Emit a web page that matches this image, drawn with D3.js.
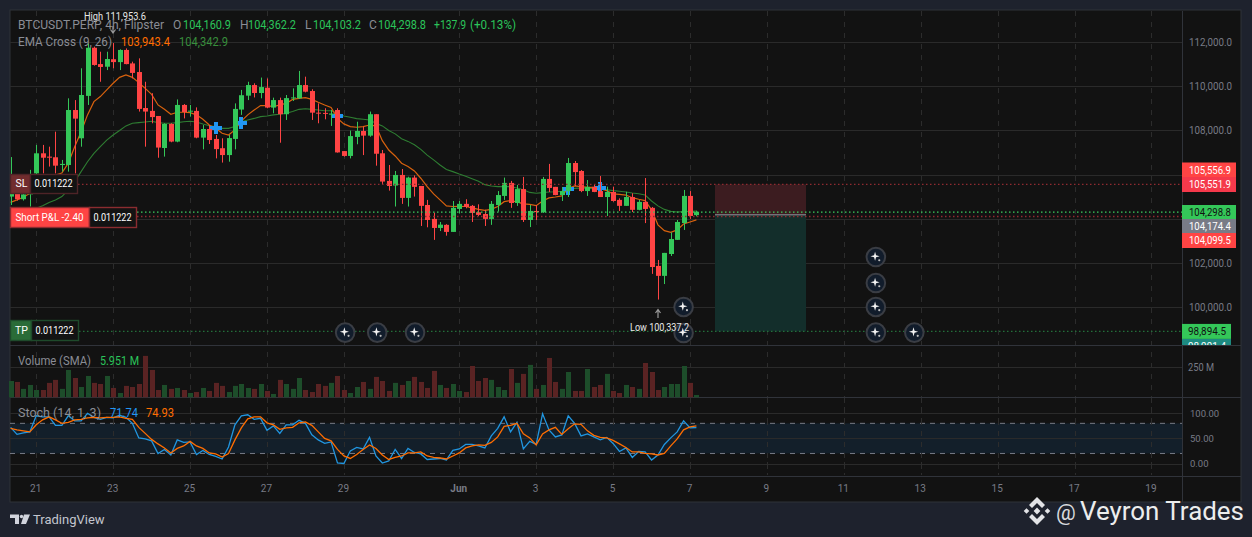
<!DOCTYPE html>
<html><head><meta charset="utf-8">
<script src="https://cdn.jsdelivr.net/npm/d3@7"></script>
<style>
html,body{margin:0;padding:0;background:#1e222d;overflow:hidden}
svg{display:block}
text{font-family:Roboto,"Noto Sans",sans-serif}
</style></head><body>
<svg id="c" width="1252" height="537"></svg>
<script>
// ---- data ----
const opens=[105000,105180,104880,105100,106050,106960,106810,106780,106430,106430,108920,107640,109560,111740,111000,110880,111220,111090,111640,111030,110640,109010,108880,108650,107200,108290,107490,109150,108850,108880,107670,108060,107610,107190,106880,107610,108940,109570,110050,109690,109930,109030,109370,108730,109450,109450,110050,109780,108800,108790,108710,108920,107060,106840,107700,107970,107760,108730,
106960,105710,105500,105980,104940,105860,105480,104620,103990,103580,103720,103400,104440,104670,104580,104290,104210,103990,104620,105030,105620,104710,105340,103940,104350,104290,105800,105440,105070,105250,106520,106160,105250,105440,105250,104980,105210,104850,104580,104980,104400,104760,104490,101860,101410,102400,103040,103800,105030,104160.9];
const highs=[106790,105900,105220,106210,107340,107340,107260,107940,106660,109450,109370,110810,111940,111790,111560,111560,111953.6,111670,111710,111110,111260,110200,109680,108650,108320,108320,109400,109190,109150,109040,108240,108240,107790,107640,107790,109220,109830,110200,110130,110390,110350,109480,109480,109600,109900,110690,110430,109860,109220,109000,108920,109000,107060,107990,108390,108170,108850,108730,
107110,106430,106160,106250,105900,105960,105480,104850,104270,103850,103750,104800,104800,104880,104620,104650,104400,104800,105250,105860,105710,105530,105890,104620,104620,105890,106480,105440,105420,106750,106610,106200,105750,105530,105930,105450,105450,104920,105220,105150,104850,105840,104530,102130,102450,103380,103940,105300,105250,104362.2];
const lows=[104620,104820,104820,104550,105900,106050,106360,106050,106130,106130,106050,107260,109150,110930,110200,110730,110810,110730,110990,110350,108850,107260,108320,106760,106810,107460,107460,108540,108620,107640,107140,107380,106730,106540,106580,107140,108700,109370,109490,109450,109000,108770,107440,108470,109330,109420,109720,108470,108320,108500,108200,106990,106810,106730,107370,106880,107710,106400,
105560,105270,104550,104670,104550,105000,103670,103610,103040,103440,103230,103400,104240,104470,103850,104120,103670,103720,104320,104850,104490,104580,103850,103620,103940,104260,105210,105060,104800,104980,105480,105200,105030,105200,104980,104120,104770,104350,104580,104300,104380,103800,101500,100337.2,101040,102310,103040,103490,103990,104103.2];
const closes=[105900,104880,105100,105980,106960,106760,106760,106400,106480,108920,108530,109600,111740,110960,110870,111230,111090,111640,111000,110600,108970,108850,108600,107220,108290,107490,109150,108830,108890,107670,108060,107560,107150,106880,107650,108970,109590,110050,109690,109960,109030,109370,108730,109460,109490,110050,109750,108800,108760,108760,108760,107000,106840,107740,107970,107760,108730,106940,
105680,105480,105980,104940,105860,105440,104580,103940,103580,103730,103400,104490,104670,104530,104260,104170,103990,104670,105070,105620,104710,105340,103940,104350,104300,105800,105390,105070,105250,106520,106110,105250,105440,105210,104980,105210,104800,104580,104980,104400,104760,104440,101810,101410,102450,103080,103850,105030,104120,104298.8];
const ema9=[104740,104850,104970,105150,105450,105680,105830,105980,106070,106510,107260,107940,108700,109300,109530,109830,110130,110400,110510,110400,110160,109900,109630,109150,108950,108730,108820,108820,108800,108700,108500,108240,108090,107870,107790,108020,108420,108700,108920,109120,109120,109070,109150,109220,109400,109450,109480,109400,109270,109150,109040,108540,108290,108170,108140,108170,108240,108200,
107530,107110,106840,106510,106360,106160,105830,105450,105120,104850,104580,104550,104560,104550,104490,104420,104380,104420,104550,104770,104820,104760,104670,104650,104590,104800,104940,104980,105030,105370,105480,105450,105420,105420,105360,105270,105120,105100,105070,104950,104880,104820,104400,103720,103460,103380,103490,103760,103850,103943.4];
const ema26=[103940,104060,104170,104300,104470,104580,104730,104850,105000,105300,105680,106130,106580,106960,107260,107560,107790,107990,108200,108320,108350,108380,108410,108350,108320,108320,108350,108390,108410,108380,108290,108210,108170,108090,108090,108170,108390,108470,108540,108620,108650,108700,108730,108770,108850,108950,108980,108950,108920,108890,108890,108770,108650,108590,108530,108500,108470,108320,
108200,107990,107840,107620,107500,107350,107140,106880,106660,106430,106230,106130,106020,105920,105810,105690,105540,105480,105450,105450,105450,105390,105310,105190,105150,105180,105210,105220,105240,105300,105370,105390,105370,105360,105340,105310,105270,105240,105210,105160,105130,105070,104800,104580,104420,104330,104300,104320,104330,104342.9];
const volumesM=[136,128,70,103,61,61,120,145,70,228,161,86,178,120,111,178,78,36,95,86,111,345,228,61,103,70,78,61,36,44,78,53,120,95,44,95,111,78,70,111,53,28,145,111,70,161,61,44,111,95,120,178,61,36,86,
128,70,170,136,53,120,103,136,170,128,78,220,103,78,111,53,44,261,136,161,145,86,61,236,120,195,270,70,103,328,128,70,211,53,53,236,86,103,195,53,36,103,86,70,286,211,61,86,111,111,261,120,19];
const stochK=[72,58,61,63,95,93,93,76,76,95,85,85,100,92,88,92,91,96,92,80,51,49,45,20,28,17,47,42,43,18,26,18,14,9,33,77,95,97,88,90,66,75,60,77,77,86,80,57,47,40,43,1,0,25,
32,29,52,15,1,5,28,10,30,22,19,8,9,10,7,26,29,38,38,35,31,55,70,93,63,82,29,44,38,99,67,53,57,95,80,55,59,53,47,52,40,24,31,12,24,23,7,17,38,51,63,85,71,71.74];
const stochD=[70,67,65,63,77,87,93,87,80,82,87,88,91,92,91,92,92,93,90,88,72,60,48,39,31,21,30,35,44,35,30,21,19,13,20,47,71,89,93,93,81,77,68,71,72,81,83,76,63,50,45,28,15,10,
18,28,37,30,17,8,12,15,21,21,23,15,12,11,9,15,21,31,35,37,36,42,53,74,76,80,59,51,37,59,67,72,58,69,79,78,65,56,52,51,46,39,32,23,23,20,19,17,20,35,49,67,73,74.93];
const crossIdx=[32,36,51,87,92];
const crossPrice=[108120,108350,108665,105330,105375];
const priceTicks=[112000,110000,108000,106000,104000,102000,100000];
const gridLabelled=[112000,110000,108000,102000,100000];
const dayLabels=['21','23','25','27','29','Jun','3','5','7','9','11','13','15','17','19'];
const dayOffsets=[0,2,4,6,8,11,13,15,17,19,21,23,25,27,29];
const stochTicks=[100,50,0];
const tagLabels=['105,556.9','105,551.9','104,298.8','104,174.4','104,099.5'];
const slPrice=105551.9, entryPrice=104174.4, pnlPrice=104099.5, lastPrice=104298.8, tpPrice=98894.5;
const badgeIdx=[52.2,57.2,63.1,105,105,135,135,135,135,141];
const badgePrice=[98840,98840,98840,100000,98820,102263,101085,100000,98840,98840];

// ---- drawing ----
const C={bg:'#121212',grid:'#2a2a2a',axis:'#787b86',up:'#34c759',down:'#ff4444',frame:'#2f3239'};
const svg=d3.select('#c');
const L=10,R=1182,E=1241;
const x=d3.scaleLinear().domain([0,107]).range([10.6,696.4]);
const y=d3.scaleLinear().domain([100000,112000]).range([307,42]);
const yv=d3.scaleLinear().domain([0,250]).range([397.3,367.3]);
const ys=d3.scaleLinear().domain([0,100]).range([463.5,413.3]);
const dayIdx=dayOffsets.map(o=>4+o*6);

svg.append('rect').attr('width',1252).attr('height',537).attr('fill','#1e222d');
svg.append('rect').attr('x',L).attr('y',10).attr('width',E-L).attr('height',492).attr('fill',C.bg).attr('stroke',C.frame);
const defs=svg.append('defs');
defs.append('clipPath').attr('id','m').append('rect').attr('x',L).attr('y',11).attr('width',R-L).attr('height',334);
defs.append('clipPath').attr('id','tagclip').append('rect').attr('x',R).attr('y',11).attr('width',E-R).attr('height',334);
const g=svg.append('g');

// horizontal grid and price axis
const priceAxis=d3.axisRight(y).tickValues(priceTicks).tickSize(0)
  .tickFormat(d=>gridLabelled.includes(d)?d3.format(',.1f')(d):'');
const axG=g.append('g').attr('transform',`translate(${R},0)`).call(priceAxis);
axG.select('.domain').remove();
axG.selectAll('text').attr('fill',C.axis).attr('font-size',10).attr('dy','0.32em').attr('x',7).attr('textLength',d=>gridLabelled.includes(d)?43:null).attr('lengthAdjust','spacingAndGlyphs');
g.append('g').selectAll('line').data(priceTicks).join('line').attr('x1',L).attr('x2',R).attr('y1',d=>Math.round(y(d))+.5).attr('y2',d=>Math.round(y(d))+.5).attr('stroke',C.grid);
// vertical dashed grid
g.append('g').selectAll('line').data(dayIdx).join('line').attr('x1',d=>Math.round(x(d))+.5).attr('x2',d=>Math.round(x(d))+.5).attr('y1',11).attr('y2',475)
  .attr('stroke','#2c2c2c').attr('stroke-dasharray','5 6');
// pane separators
[345.5,397.5,476.5].forEach(v=>g.append('line').attr('x1',L).attr('x2',E).attr('y1',v).attr('y2',v).attr('stroke','#30333a'));
g.append('line').attr('x1',R+.5).attr('x2',R+.5).attr('y1',11).attr('y2',502).attr('stroke','#30333a');

const main=g.append('g').attr('clip-path','url(#m)');
// position boxes
const bx0=715,bx1=806;
main.append('rect').attr('x',bx0).attr('width',bx1-bx0).attr('y',y(slPrice)).attr('height',y(entryPrice)-y(slPrice)).attr('fill','#3c1c20');
main.append('rect').attr('x',bx0).attr('width',bx1-bx0).attr('y',y(entryPrice)).attr('height',y(tpPrice)-y(entryPrice)).attr('fill','#132e2b');
main.append('line').attr('x1',bx0).attr('x2',bx1).attr('y1',y(entryPrice)).attr('y2',y(entryPrice)).attr('stroke','#9598a1');

// EMAs (below the candles)
const ln=(a,sc)=>d3.line().x((d,i)=>x(i)).y(d=>sc(d))(a);
main.append('path').attr('d',ln(ema26,y)).attr('fill','none').attr('stroke','#2e7d32').attr('stroke-width',1.1);
main.append('path').attr('d',ln(ema9,y)).attr('fill','none').attr('stroke','#d8620e').attr('stroke-width',1.2);

// blue crosses
crossIdx.forEach((c,i)=>{const cx=Math.round(x(c)),cy=Math.round(y(crossPrice[i]));
  main.append('rect').attr('x',cx-6).attr('y',cy-2).attr('width',12).attr('height',4).attr('fill','#2196f3');
  main.append('rect').attr('x',cx-2).attr('y',cy-6).attr('width',4).attr('height',12).attr('fill','#2196f3');});

// candles
const idx=d3.range(opens.length);
const col=i=>closes[i]>=opens[i]?C.up:C.down;
const cs=main.append('g').selectAll('g').data(idx).join('g');
cs.append('rect').attr('x',i=>Math.round(x(i))).attr('width',1).attr('y',i=>y(highs[i])).attr('height',i=>y(lows[i])-y(highs[i])).attr('fill',col);
cs.append('rect').attr('x',i=>Math.round(x(i))-2).attr('width',5)
  .attr('y',i=>y(Math.max(opens[i],closes[i]))).attr('height',i=>Math.max(1,Math.abs(y(opens[i])-y(closes[i])))).attr('fill',col);

// dotted level lines
const dot=(p,x0,c,w)=>g.append('line').attr('x1',x0).attr('x2',R).attr('y1',y(p)).attr('y2',y(p)).attr('stroke',c).attr('stroke-width',w).attr('stroke-dasharray','1.5 2.5');
dot(slPrice,78,'#8f2b30',1.4);dot(pnlPrice,137,'#8f2b30',1.4);dot(lastPrice,137,'#3ccf5f',1.3);dot(tpPrice,79,'#23703a',1.4);

// order labels
function box(x0,y0,w,h,fill,stroke){g.append('rect').attr('x',x0+.5).attr('y',y0+.5).attr('width',w).attr('height',h).attr('fill',fill).attr('stroke',stroke).attr('stroke-width',1.4);}
function t(txt,xx,yy,fs,fill,len){const e=g.append('text').attr('x',xx).attr('y',yy).attr('font-size',fs).attr('fill',fill).text(txt);
  if(len)e.attr('textLength',len).attr('lengthAdjust','spacingAndGlyphs');return e;}
box(10,174,20,19,'#712c2e','#4e2327');box(30,174,47,19,'#131313','#4e2327');
t('SL',15.5,187,10.5,'#fff');t('0.011222',34.5,187,10.5,'#fff',38);
box(10,207,79,20,'#ff4444','#8a2c30');box(89,207,47,20,'#131313','#8a2c30');
t('Short P&L  -2.40',15.5,220.5,10.5,'#fff',68);t('0.011222',93.5,220.5,10.5,'#fff',38);
box(10,320,21,20,'#2a6c38','#1e4a2b');box(31,320,47,20,'#131313','#1e4a2b');
t('TP',15,334,10.5,'#fff');t('0.011222',35.5,334,10.5,'#fff',38);

// price tags, stacked so that they do not cover one another
const tagFill=['#ff4444','#f5394b','#34c759','#787b86','#ff4444'];
const tagInk=['#fff','#fff','#111','#fff','#fff'];
const tagCentre=[170,184.5,212.5,226.5,240.5];
const tg=g.append('g').attr('clip-path','url(#tagclip)');
tagLabels.forEach((s,i)=>{
  tg.append('rect').attr('x',R).attr('y',tagCentre[i]-7.5).attr('width',54).attr('height',15).attr('fill',tagFill[i]);
  tg.append('text').attr('x',R+7).attr('y',tagCentre[i]+3.6).attr('font-size',10).attr('fill',tagInk[i]).attr('textLength',42).attr('lengthAdjust','spacingAndGlyphs').text(s);});
tg.append('rect').attr('x',R).attr('y',y(tpPrice)-7.5).attr('width',49).attr('height',15).attr('fill','#34c759');
tg.append('text').attr('x',R+6).attr('y',y(tpPrice)+3.6).attr('font-size',10).attr('fill','#111').attr('textLength',38).attr('lengthAdjust','spacingAndGlyphs').text('98,894.5');
tg.append('rect').attr('x',R).attr('y',339).attr('width',49).attr('height',15).attr('fill','#1d8a80');
tg.append('text').attr('x',R+6).attr('y',350).attr('font-size',10).attr('fill','#fff').attr('textLength',38).attr('lengthAdjust','spacingAndGlyphs').text('98,991.4');

// badges
const star='M0,-4.6 L1,-1 L4.6,0 L1,1 L0,4.6 L-1,1 L-4.6,0 L-1,-1Z';
const bd=g.append('g').selectAll('g').data(badgeIdx).join('g').attr('transform',(d,i)=>`translate(${x(d)},${y(badgePrice[i])})`);
bd.append('circle').attr('r',9.3).attr('fill','#111c2b').attr('stroke','#3a3d44').attr('stroke-width',2);
bd.append('path').attr('d',star).attr('fill','#f2f2f2').attr('transform','translate(-0.8,-0.8)');
bd.append('circle').attr('cx',3.4).attr('cy',3.2).attr('r',1.1).attr('fill','#bdbdbd');

// high / low marks
t('High 111,953.6',84,19.5,10,'#e8e8e8',62);
g.append('path').attr('d','M113,33V26M110.5,29.5L113,33L115.5,29.5').attr('fill','none').attr('stroke','#9a9a9a').attr('stroke-width',1.2);
t('Low 100,337.2',630,330.5,10,'#e8e8e8',59);
g.append('path').attr('d','M658,318V310M655.5,313L658,309.5L660.5,313').attr('fill','none').attr('stroke','#9a9a9a').attr('stroke-width',1.2);

// legend
const gr='#8a8d95',lg='#2bc45a';
t('BTCUSDT.PERP, 4h, Flipster',18,29,12,gr,146);
[['O',173,183,'104,160.9'],['H',240,248,'104,362.2'],['L',305,313,'104,103.2'],['C',369,378,'104,298.8']].forEach(([a,xx,xv,v])=>{t(a,xx,29,12,gr);t(v,xv,29,12,lg,48);});
t('+137.9',434,29,12,lg,32);t('(+0.13%)',470,29,12,lg,46);
t('EMA Cross (9, 26)',18,46,12,gr,94);t('103,943.4',121,46,12,'#ff6d00',49);t('104,342.9',179,46,12,'#388e3c',49);

// volume pane
g.append('line').attr('x1',L).attr('x2',R).attr('y1',367.5).attr('y2',367.5).attr('stroke',C.grid);
g.append('g').selectAll('rect').data(volumesM).join('rect')
  .attr('x',(d,i)=>Math.round(x(i))-2).attr('width',5).attr('y',d=>yv(d)).attr('height',d=>yv(0)-yv(d))
  .attr('fill',(d,i)=>closes[i]>=opens[i]?'#1d4d2a':'#5a2323');
const volAxis=d3.axisRight(yv).tickValues([250]).tickSize(0).tickFormat(d=>d+' M');
const vg=g.append('g').attr('transform',`translate(${R},0)`).call(volAxis);vg.select('.domain').remove();
vg.selectAll('text').attr('fill',C.axis).attr('font-size',10).attr('x',6).attr('dy','0.32em').attr('textLength',26).attr('lengthAdjust','spacingAndGlyphs');
t('Volume (SMA)',18,365,12,gr,73);t('5.951 M',100,365,12,lg,39);

// stochastic pane
const by0=ys(80),by1=ys(20);
g.append('rect').attr('x',L+1).attr('width',R-L-1).attr('y',by0).attr('height',by1-by0).attr('fill','#131f2a');
g.append('g').selectAll('line').data(stochTicks).join('line').attr('x1',L).attr('x2',R).attr('y1',d=>Math.round(ys(d))+.5).attr('y2',d=>Math.round(ys(d))+.5).attr('stroke',C.grid);
[80,20].forEach(v=>g.append('line').attr('x1',L).attr('x2',R).attr('y1',ys(v)).attr('y2',ys(v)).attr('stroke','#787b86').attr('stroke-dasharray','5 5'));
g.append('g').selectAll('line').data(dayIdx).join('line').attr('x1',d=>Math.round(x(d))+.5).attr('x2',d=>Math.round(x(d))+.5).attr('y1',398).attr('y2',475).attr('stroke','#2c2c2c').attr('stroke-dasharray','5 6');
g.append('path').attr('d',ln(stochK,ys)).attr('fill','none').attr('stroke','#2196e0').attr('stroke-width',1.3);
g.append('path').attr('d',ln(stochD,ys)).attr('fill','none').attr('stroke','#ff6d00').attr('stroke-width',1.3);
const stAxis=d3.axisRight(ys).tickValues(stochTicks).tickSize(0).tickFormat(d3.format('.2f'));
const sg=g.append('g').attr('transform',`translate(${R},0)`).call(stAxis);sg.select('.domain').remove();
sg.selectAll('text').attr('fill',C.axis).attr('font-size',9.5).attr('x',8).attr('dy','0.32em');
t('Stoch (14, 1, 3)',18,417,12,gr,83);t('71.74',110,417,12,'#2196f3',28);t('74.93',146,417,12,'#ff6d00',28);

// time axis
const xAxis=d3.axisBottom(x).tickValues(dayIdx).tickSize(0).tickPadding(0).tickFormat((d,i)=>dayLabels[i]);
const xg=g.append('g').attr('transform','translate(-1,485.2)').call(xAxis);xg.select('.domain').remove();
xg.selectAll('text').attr('fill',C.axis).attr('font-size',10).attr('font-weight',(d,i)=>dayLabels[i]==='Jun'?700:400);

// TradingView logo
g.append('path').attr('d','M10,514.5H19V524H15V518H10Z M24,514.5H30L26,524H21Z').attr('fill','#d1d4dc');
g.append('circle').attr('cx',21.5).attr('cy',516.5).attr('r',1.7).attr('fill','#d1d4dc');
t('TradingView',33,524,13,'#c3c6ce');

// watermark
const wm=g.append('g').attr('transform','translate(1037,511)').attr('fill','#e2e3e6');
wm.append('path').attr('d','M0,-14L8,-6L5,-3L0,-8L-5,-3L-8,-6Z M0,14L8,6L5,3L0,8L-5,3L-8,6Z M0,-3.4L3.4,0L0,3.4L-3.4,0Z M-10.5,-2.8L-7.7,0L-10.5,2.8L-13.3,0Z M10.5,-2.8L13.3,0L10.5,2.8L7.7,0Z');
t('@',1056,520,22,'#d8d9dc').attr('font-family','"Open Sans"');
t('Veyron Trades',1080,520,25,'#eceded',164).attr('font-family','"Open Sans"');
</script>
</body></html>
